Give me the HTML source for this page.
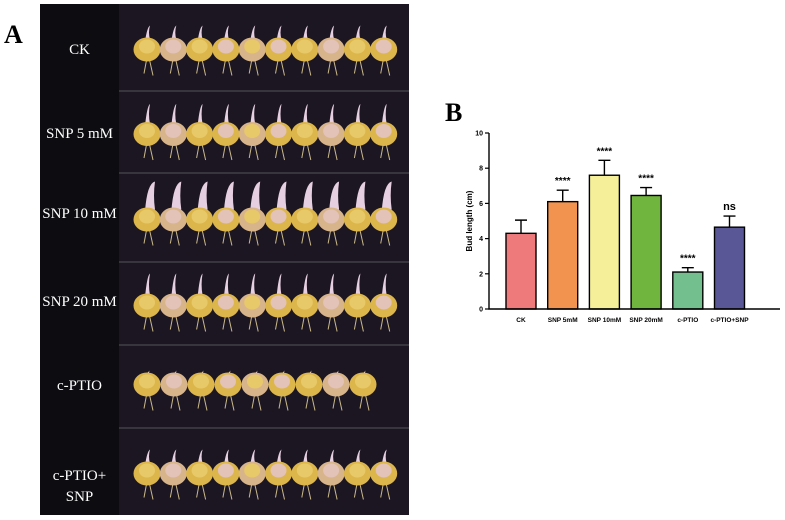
<!DOCTYPE html>
<html><head><meta charset="utf-8">
<style>
html,body{margin:0;padding:0;background:#fff;}
body{width:785px;height:520px;position:relative;overflow:hidden;font-family:"Liberation Sans",sans-serif;}
.lbl{position:absolute;color:#fff;font-family:"Liberation Serif",serif;font-size:15px;text-align:center;width:79px;left:40px;}
</style></head>
<body>
<div style="position:absolute;left:4px;top:20px;font-family:'Liberation Serif',serif;font-weight:bold;font-size:26px;">A</div>
<div style="position:absolute;left:40px;top:4px;width:369px;height:511px;background:#0d0c10;"></div>
<svg id="photos" width="785" height="520" style="position:absolute;left:0;top:0;"></svg>
<div class="lbl" style="top:42px;">CK</div>
<div class="lbl" style="top:126px;">SNP 5 mM</div>
<div class="lbl" style="top:206px;">SNP 10 mM</div>
<div class="lbl" style="top:294px;">SNP 20 mM</div>
<div class="lbl" style="top:378px;">c-PTIO</div>
<div class="lbl" style="top:466px;line-height:21px;">c-PTIO+<br>SNP</div>

<div style="position:absolute;left:445px;top:98px;font-family:'Liberation Serif',serif;font-weight:bold;font-size:26px;">B</div>
<svg id="chart" width="785" height="520" style="position:absolute;left:0;top:0;"></svg>

<script>
const categories=["CK","SNP 5mM","SNP 10mM","SNP 20mM","c-PTIO","c-PTIO+SNP"];
const means=[4.3,6.1,7.6,6.45,2.1,4.65];
const errTop=[5.05,6.75,8.45,6.9,2.35,5.28];
const sig=["","****","****","****","****","ns"];
const colors=["#ef7a7c","#f39350","#f4ef98","#70b53e","#73bf8e","#5a5796"];
const yTicks=[0,2,4,6,8,10];

const NS="http://www.w3.org/2000/svg";
function mk(p,tag,at){const e=document.createElementNS(NS,tag);for(const k in at)e.setAttribute(k,at[k]);p.appendChild(e);return e;}

// photos
const ph=document.getElementById('photos');
const rows=[[4,91],[91,173],[173,262],[262,345],[345,428],[428,515]];
const sprout=[14,20,28,22,4,14];
rows.forEach((r,i)=>{
  const g=mk(ph,'g',{});
  
  
  mk(g,'rect',{x:119,y:r[0],width:290,height:r[1]-r[0],fill:'#1c1623'});
  if(i>0) mk(g,'line',{x1:119,x2:409,y1:r[0],y2:r[0],stroke:'#555',"stroke-width":1});
  const cy=(r[0]+r[1])/2+(i==4?-2:2);
  const n=i==4?9:10;
  for(let k=0;k<n;k++){
    const cx=147+k*(i==4?27:26.3);
    mk(g,'path',{d:`M${cx} ${cy+8} l-3 ${16} M${cx+2} ${cy+8} l4 ${18}`,stroke:'#c9b98a',"stroke-width":1,fill:'none'});
    mk(g,'path',{d:`M${cx-2} ${cy-8} q2 ${-sprout[i]} ${4+ (i==2?6:1)} ${-sprout[i]-2} q-2 ${sprout[i]/2} 0 ${sprout[i]}z`,fill:'#e6cfe0'});
    mk(g,'ellipse',{cx:cx,cy:cy,rx:13.5,ry:12,fill:k%3==1?'#d8b48a':'#dcb64a'});
    mk(g,'ellipse',{cx:cx,cy:cy-3,rx:8,ry:7,fill:k%2?'#e3c2b8':'#e8c96a'});
  }
});

// chart
const c=document.getElementById('chart');
const x0=489,x1=780,yBase=309,yTopPx=133;
const y=v=>yBase-(v/10)*(yBase-yTopPx);
const xc=i=>521+i*41.7;
const bw=30;
yTicks.forEach(t=>{
  const l=mk(c,'line',{x1:x0-4,x2:x0,y1:y(t),y2:y(t),stroke:'#000',"stroke-width":1.2});
  
  
  const tx=mk(c,'text',{x:x0-6,y:y(t)+2.5,"font-size":7,"text-anchor":"end","font-weight":"bold","font-family":"Liberation Sans, sans-serif"});
  tx.textContent=t;
  
  
});
categories.forEach((cat,i)=>{
  const cx=xc(i);
  const e=mk(c,'path',{d:`M${cx} ${y(means[i])} V${y(errTop[i])} M${cx-6} ${y(errTop[i])} H${cx+6}`,stroke:'#000',"stroke-width":1.4,fill:'none'});
  
  
  const b=mk(c,'rect',{x:cx-bw/2,y:y(means[i]),width:bw,height:yBase-y(means[i]),fill:colors[i],stroke:'#000',"stroke-width":1.4});
  
  
  const t=mk(c,'text',{x:cx,y:yBase+13,"font-size":6.5,"text-anchor":"middle","font-weight":"bold","font-family":"Liberation Sans, sans-serif"});
  t.textContent=cat;
  
  
  if(sig[i]){
    const s=mk(c,'text',{x:cx,y:y(errTop[i])-(sig[i]=="ns"?6:6),"font-size":sig[i]=="ns"?11:10,"text-anchor":"middle","font-weight":"bold","font-family":"Liberation Sans, sans-serif"});
    s.textContent=sig[i];
    
    
  }
});
const ax=mk(c,'path',{d:`M${x0} ${yTopPx} V${yBase} H${x1}`,stroke:'#000',"stroke-width":1.4,fill:'none'});


const yl=mk(c,'text',{x:0,y:0,"font-size":8,"text-anchor":"middle","font-weight":"bold","font-family":"Liberation Sans, sans-serif",transform:`translate(472,${(yBase+yTopPx)/2}) rotate(-90)`});
yl.textContent="Bud length (cm)";


</script>
</body></html>
